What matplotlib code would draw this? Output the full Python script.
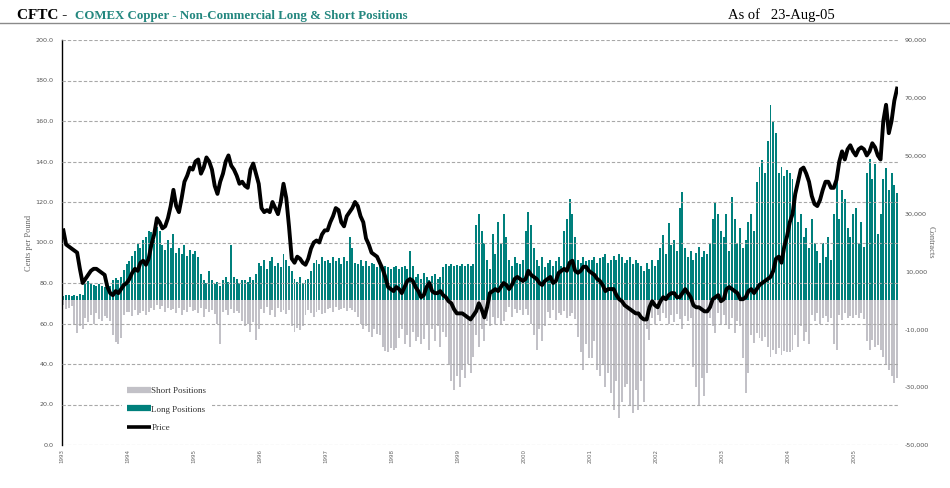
import numpy as np
import matplotlib
matplotlib.use("Agg")
import matplotlib.pyplot as plt
from matplotlib.lines import Line2D

# semi-monthly observations, Jan 1993 - Aug 2005 (24 per year)
# price in cents per pound
price = [
    106, 99, 98, 97, 96, 95, 87, 80, 82, 84, 86, 87, 87, 86, 85, 84, 78, 75, 74, 76, 75, 77, 79, 80,
    82, 85, 87, 86, 90, 91, 89, 92, 99, 104, 112, 110, 107, 108, 112, 118, 126, 118, 115, 122, 130, 133, 137, 136,
    140, 141, 134, 137, 142, 140, 136, 128, 124, 130, 134, 140, 143, 138, 136, 133, 129, 130, 128, 127, 136, 139, 134, 129,
    117, 115, 116, 115, 120, 117, 114, 120, 129, 122, 108, 92, 90, 93, 92, 90, 89, 92, 97, 100, 101, 100, 104, 106,
    106, 110, 113, 117, 116, 110, 108, 113, 115, 117, 120, 118, 113, 110, 102, 99, 95, 94, 93, 90, 87, 83, 78, 77,
    76, 78, 77, 75, 78, 81, 82, 81, 78, 76, 73, 74, 78, 80, 76, 75, 75, 76, 74, 73, 71, 70, 67, 65,
    65, 65, 64, 63, 62, 64, 66, 70, 67, 63, 68, 75, 76, 77, 76, 78, 80, 79, 77, 79, 82, 83, 82, 81,
    82, 86, 84, 83, 82, 80, 79, 81, 82, 83, 80, 81, 85, 86, 87, 86, 90, 91, 86, 85, 86, 88, 88, 86,
    85, 84, 82, 81, 79, 76, 77, 77, 77, 74, 72, 71, 69, 68, 67, 66, 65, 65, 63, 62, 62, 68, 71, 69,
    68, 71, 73, 72, 74, 75, 75, 73, 73, 75, 77, 75, 73, 69, 68, 68, 67, 66, 66, 68, 72, 73, 74, 71,
    72, 77, 78, 77, 76, 75, 72, 72, 73, 76, 77, 75, 77, 79, 80, 81, 82, 83, 86, 92, 93, 90, 98, 103,
    110, 114, 124, 130, 136, 137, 134, 130, 123, 119, 118, 121, 126, 130, 130, 127, 127, 131, 140, 145, 141, 146, 148, 145,
    143, 146, 147, 146, 143, 145, 149, 147, 143, 141, 160, 168, 154, 160, 170, 176,
]

# non-commercial long positions, thousands of contracts
long_pos = [
    1.5, 2.0, 1.8, 1.5, 2.0, 1.6, 2.2, 1.8, 5.5, 6.8, 6.0, 5.2, 4.8, 5.5, 5.0, 4.6, 5.2, 4.8, 7.2, 7.8, 7.0, 8.2, 10.5, 12.5,
    13.5, 15.5, 17, 19.5, 18, 21, 22, 24, 23.5, 21, 25.5, 24, 19, 17.5, 21, 18, 23, 16.5, 18, 16, 19, 15.5, 17.5, 16,
    17, 15, 9, 7, 6, 10, 7, 5.5, 6.5, 5, 7, 8, 6.5, 19, 8, 7.5, 6, 7, 7, 6.5, 8, 7, 9, 13,
    12, 14, 11, 13.5, 15, 12, 13, 11.5, 16, 14, 12, 10, 7.5, 6.5, 8, 6, 7, 7.5, 10, 13, 14, 12.5, 15, 13.5,
    14, 13, 15, 13.5, 14.5, 12.5, 15, 13.5, 22, 18, 13, 12.5, 14, 12, 13.5, 12, 13, 12.5, 11.5, 12, 11, 12, 11.5, 11,
    11.5, 12, 11, 11.5, 12, 11, 17, 12, 8, 9, 7.5, 9.5, 8, 7, 8.5, 9, 7.5, 8, 11.5, 12.5, 12, 12.7, 11.8, 12.3,
    12, 12.5, 11.8, 12.7, 12, 12.4, 26, 30, 24, 20, 14, 11, 23, 16, 27, 20, 30, 22, 14, 12, 15, 13, 12.5, 14,
    24, 30.5, 26, 18, 14, 12, 15, 11.5, 13, 14, 12, 13.5, 15, 12, 24, 28, 35, 30, 22, 14, 13, 15, 13.5, 14,
    14, 15, 13, 14.5, 15, 16, 13, 14, 15.5, 14, 16, 15, 13, 14, 15, 12.5, 14, 13, 12, 10, 13, 11, 14, 12,
    14, 18, 22.5, 16, 26.6, 19, 21, 17, 32, 37.5, 18, 15, 17, 14, 16.5, 18.5, 15, 17, 16, 20, 28, 33.5, 30, 24,
    22, 30, 17, 35.8, 28, 20, 25, 18, 21, 27, 30, 24, 41, 46, 48.5, 44, 55, 67.5, 62, 58, 44, 46, 43, 45,
    44, 42, 33.5, 27, 30, 22, 25, 18, 28, 20, 17, 13, 20, 15, 22, 14, 30, 41.5, 28, 38, 35, 25, 22, 30,
    32, 20, 27, 18.5, 44, 49, 42, 47, 23, 30, 42, 45.6, 38, 44, 40, 37,
]

# non-commercial short positions, thousands of contracts
short_pos = [
    1.5, 3, 2.5, 2, 8, 11.4, 9, 10, 6, 7.5, 5, 8, 4.5, 6.5, 7, 5.5, 6, 7, 12, 14.5, 15, 13, 5, 4,
    4, 5.5, 3.5, 5, 4.5, 3.8, 5.2, 4, 2.5, 3.5, 1.6, 3, 2, 4, 2.8, 3.2, 3, 4.5, 2.5, 5, 3.5, 4, 2.2, 3.8,
    3.5, 4.5, 2.8, 5.6, 3, 4, 3.5, 4.8, 8, 15, 4, 3.5, 5, 3, 4.5, 3.8, 4.2, 7, 9, 8, 11, 7.5, 13.7, 10,
    3, 4.5, 2.2, 5, 3.5, 5.6, 2.8, 4, 3.2, 4.8, 3.5, 9, 10.8, 9.5, 10.2, 9, 5, 3.3, 4.5, 5.6, 4, 3.5, 4.8, 4.2,
    3, 2.5, 4, 2.2, 3.5, 3, 2.8, 3.8, 2.5, 3.2, 4, 5.6, 8, 10, 9, 11, 12.5, 10, 11.5, 12, 16, 17.5, 17.7, 16.5,
    17, 16.5, 13, 10, 15, 12, 16, 11, 14, 12.5, 15, 13.5, 8, 17, 10, 14, 9, 16, 11, 12.5, 22, 28, 31, 26,
    30, 24, 27, 22, 25, 19.5, 12, 16, 10, 14, 7, 9, 5.6, 8, 6, 8.5, 7, 4, 2.2, 5.6, 3, 4.5, 3.5, 5,
    3, 5, 8, 12, 17, 10, 14, 9, 4, 6, 3.3, 6.8, 4.5, 5, 3.8, 6, 5.5, 4.2, 6.5, 12.5, 18, 24, 15, 20,
    20, 14, 24, 26, 22, 30, 25, 32, 38, 28, 40.5, 35, 30, 29, 36, 39, 31, 38, 28, 35, 10, 13.7, 6, 8,
    5, 7, 4.5, 6, 8, 5, 7.5, 4.8, 6.5, 10, 5.5, 7, 6, 23, 30, 36, 27, 33, 25, 6, 9, 11.4, 4.5, 8,
    5, 8, 10, 6, 11.4, 7, 9, 20, 32, 25, 12, 14.9, 11.4, 13, 14, 12.5, 16, 19.5, 17, 18.5, 16.5, 19, 17.5, 18,
    18, 17, 12, 16, 9, 14, 11, 15, 5, 7, 4.5, 8, 6, 5.5, 7.5, 6, 15, 17, 5, 6.8, 4.5, 6, 5.5, 6.2,
    5, 6, 4.5, 6.5, 14, 17, 13.7, 16, 15.5, 17.2, 19.5, 22, 24, 26, 28.7, 27,
]

years = list(range(1993, 2006))
teal = "#00807c"
grey = "#c2c1c7"

# contracts are drawn on the cents scale: -50,000..90,000 <-> 0..200
def to_contracts(c):
    return c * 700.0 - 50000.0

def to_cents(k):
    return (k + 50000.0) / 700.0

t = 1993 + (np.arange(len(price)) + 0.5) / 24.0
zero = to_cents(0.0)
longs = np.array(long_pos) * 1000.0
shorts = np.array(short_pos) * 1000.0

fig = plt.figure(figsize=(9.5, 4.88), dpi=100)
ax = fig.add_axes([62 / 950, 1 - 445 / 488, 836 / 950, 405 / 488])

w = 0.72 / 24
ax.bar(t, to_cents(longs) - zero, bottom=zero, width=w, color=teal, linewidth=0, zorder=1)
ax.bar(t, to_cents(-shorts) - zero, bottom=zero, width=w, color=grey, linewidth=0, zorder=1)
ax.plot(t, price, color="black", lw=2.8, solid_joinstyle="round", zorder=3)

ax.set_xlim(1993.0, 2005.66)
ax.set_ylim(0, 200)
ax.set_yticks(np.arange(0, 201, 20))
ax.set_yticklabels([f"{v:.1f}" for v in np.arange(0, 201, 20)])
ax.set_xticks(years)
ax.set_xticklabels([str(y) for y in years], rotation=90, fontsize=4, color="#666666")
ax.tick_params(axis="x", length=0, pad=3)
ax.tick_params(axis="y", length=0, pad=6, labelsize=4.6, labelcolor="#555555")
ax.set_axisbelow(False)
ax.yaxis.grid(True, color="#a8a8a8", lw=0.8, linestyle=(0, (3, 1.8)), zorder=2)
for s in ["top", "right", "bottom"]:
    ax.spines[s].set_visible(False)
ax.spines["left"].set_color("black")
ax.spines["left"].set_linewidth(1.0)
ax.set_ylabel("Cents per Pound", family="Liberation Serif", fontsize=6, color="#666666", labelpad=2)

sec = ax.secondary_yaxis("right", functions=(to_contracts, to_cents))
sec.set_yticks(np.arange(-50000, 90001, 20000))
sec.set_yticklabels([f"{v:,}" for v in np.arange(-50000, 90001, 20000)])
sec.tick_params(length=0, pad=5, labelsize=4.6, labelcolor="#555555")
sec.spines["right"].set_visible(False)
sec.set_ylabel("Contracts", family="Liberation Serif", fontsize=6, color="#666666",
               rotation=270, labelpad=4)

handles = [
    Line2D([], [], color=grey, lw=4.5, solid_capstyle="butt"),
    Line2D([], [], color=teal, lw=4.5, solid_capstyle="butt"),
    Line2D([], [], color="black", lw=2.6, solid_capstyle="butt"),
]
leg = ax.legend(handles, ["Short Positions", "Long Positions", "Price"],
                loc="upper left", bbox_to_anchor=(0.066, 0.168),
                prop={"family": "Liberation Serif", "size": 6.5},
                frameon=True, facecolor="white", edgecolor="none", framealpha=1,
                handlelength=2.6, handletextpad=0.1, labelspacing=1.12, borderpad=0.6)
leg.set_zorder(5)
for txt in leg.get_texts():
    txt.set_color("#333333")

# header
fig.text(17 / 950, 1 - 19 / 488, "CFTC -", family="Liberation Serif", fontweight="bold",
         fontsize=11, color="black", va="baseline")
fig.text(75 / 950, 1 - 19 / 488, "COMEX Copper - Non-Commercial Long & Short Positions",
         family="Liberation Serif", fontweight="bold", fontsize=9.3, color="#23877f", va="baseline")
fig.text(728 / 950, 1 - 19 / 488, "As of   23-Aug-05", family="Liberation Serif",
         fontsize=10.5, color="black", va="baseline")
fig.add_artist(Line2D([0, 1], [1 - 23 / 488, 1 - 23 / 488], transform=fig.transFigure,
                      color="#8a8a8a", lw=1.0))

fig.savefig("out.png", dpi=100, facecolor="white")
